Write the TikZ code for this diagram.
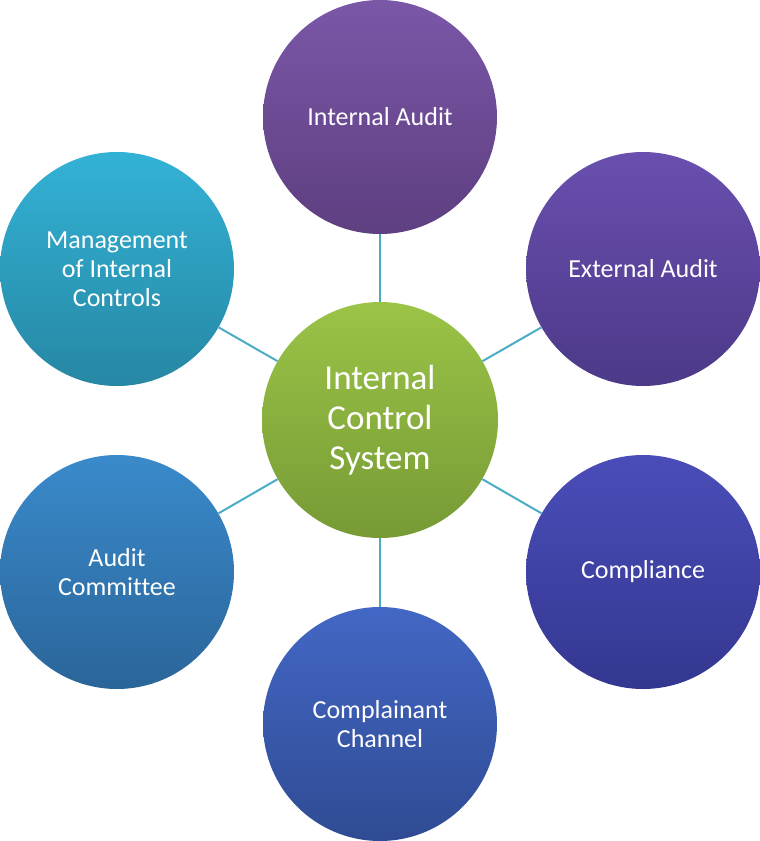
\documentclass[tikz,border=0pt]{standalone}
\usepackage{fontspec}
\setmainfont{Carlito}[Ligatures=CommonOff]
\usetikzlibrary{positioning}

\definecolor{linkcol}{HTML}{4BACC6}
\definecolor{green1}{HTML}{9BC447}
\definecolor{green2}{HTML}{779A35}

\begin{document}
\begin{tikzpicture}[x=1pt,y=-1pt,
bubble/.style={circle,minimum size=234pt,inner sep=0pt,text=white,align=center,
  font=\fontsize{26}{29}\selectfont,shading=axis,shading angle=0},
hub/.style={bubble,minimum size=236pt,font=\fontsize{35}{40}\selectfont,
  top color=green1,bottom color=green2},
link/.style={draw=linkcol,line width=2pt}]
\useasboundingbox (0,0) rectangle (760,841);
\node[hub] (ics) at (380,420) {Internal\\Control\\System};
\node[bubble,top color={rgb,255:red,123;green,87;blue,168},bottom color={rgb,255:red,94;green,63;blue,128}]
  (ia) at (380,117) {Internal Audit};
\node[bubble,top color={rgb,255:red,106;green,79;blue,175},bottom color={rgb,255:red,76;green,57;blue,136}]
  (ea) at (643,269) {External Audit};
\node[bubble,top color={rgb,255:red,74;green,77;blue,184},bottom color={rgb,255:red,52;green,55;blue,144}]
  (comp) at (643,572) {Compliance};
\node[bubble,top color={rgb,255:red,67;green,103;blue,197},bottom color={rgb,255:red,47;green,75;blue,147}]
  (cc) at (380,724) {Complainant\\Channel};
\node[bubble,top color={rgb,255:red,58;green,138;blue,203},bottom color={rgb,255:red,42;green,101;blue,153}]
  (ac) at (117,572) {Audit\\Committee};
\node[bubble,top color={rgb,255:red,51;green,178;blue,214},bottom color={rgb,255:red,38;green,135;blue,163}]
  (mic) at (117,269) {Management\\of Internal\\Controls};
% spokes
\foreach \n in {ia,ea,comp,cc,ac,mic}
  \draw[link] (ics) -- (\n);
\end{tikzpicture}
\end{document}
